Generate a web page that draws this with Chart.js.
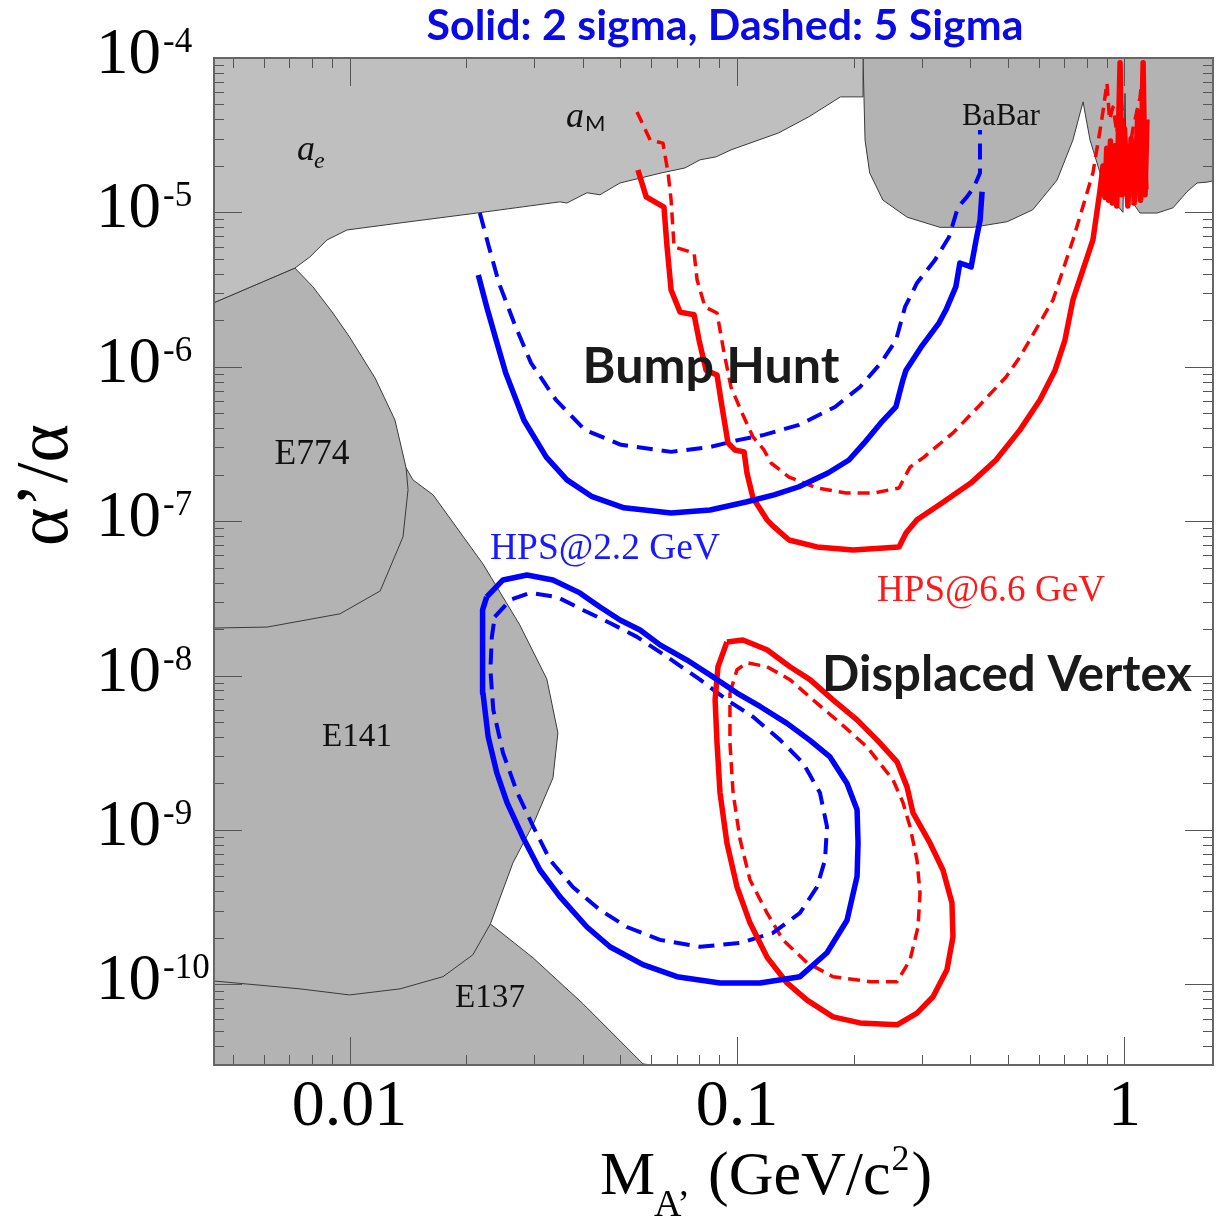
<!DOCTYPE html>
<html>
<head>
<meta charset="utf-8">
<script src="https://cdn.jsdelivr.net/npm/chart.js@4.4.1/dist/chart.umd.min.js"></script>
<style>
  html, body { margin: 0; padding: 0; background: #fff; }
  #wrap { position: relative; width: 1220px; height: 1217px; }
</style>
</head>
<body>
<div id="wrap"><canvas id="chart"></canvas></div>
<script>
// [mass (GeV), alpha'/alpha]

// excluded regions
const upperRegion = [
  [0.00447, 2.6e-6], [0.00723, 4.36e-6], [0.0079, 5.14e-6], [0.00875, 6.63e-6], [0.00985, 7.69e-6],
  [0.0135, 8.54e-6], [0.0213, 9.9e-6], [0.0349, 1.17e-5], [0.0364, 1.15e-5], [0.041, 1.34e-5],
  [0.0443, 1.3e-5], [0.0499, 1.55e-5], [0.0637, 1.8e-5], [0.0734, 1.94e-5], [0.0803, 2.19e-5],
  [0.0883, 2.29e-5], [0.0965, 2.54e-5], [0.128, 3.27e-5], [0.153, 4.15e-5], [0.185, 5.6e-5],
  [0.2115, 5.6e-5], [0.2115, 1e-4], [0.00447, 1e-4]
];
const babarRegion = [
  [0.2115, 1e-4], [0.2115, 9.7e-5], [0.214, 2.94e-5], [0.22, 1.8e-5], [0.238, 1.2e-5],
  [0.275, 9.3e-6], [0.334, 8.0e-6], [0.406, 8.0e-6], [0.498, 8.7e-6], [0.58, 1.04e-5],
  [0.67, 1.62e-5], [0.736, 2.94e-5], [0.768, 4.4e-5], [0.782, 5.2e-5], [0.791, 4.4e-5],
  [0.815, 2.94e-5], [0.865, 1.8e-5], [0.934, 1.2e-5], [0.991, 1.0e-5], [1.003, 5.9e-5],
  [1.015, 1.08e-5], [1.052, 1.15e-5], [1.096, 9.9e-6], [1.213, 9.9e-6], [1.334, 1.07e-5],
  [1.45, 1.36e-5], [1.539, 1.55e-5], [1.633, 1.57e-5], [1.692, 1.6e-5], [1.692, 1e-4]
];
const beamDumpRegion = [
  [0.00447, 2.6e-6], [0.00723, 4.36e-6], [0.00805, 3.29e-6], [0.00906, 2.23e-6], [0.0100, 1.56e-6],
  [0.01164, 8.46e-7], [0.0131, 4.52e-7], [0.0140, 2.21e-7], [0.01458, 1.85e-7], [0.01643, 1.48e-7],
  [0.0221, 5.28e-8], [0.0275, 2.13e-8], [0.0323, 9.5e-9], [0.0345, 4.25e-9], [0.0335, 2.17e-9],
  [0.0298, 1.09e-9], [0.0264, 6.1e-10], [0.0231, 2.46e-10], [0.0298, 1.48e-10], [0.0400, 7.5e-11],
  [0.0572, 3.05e-11], [0.06, 3.0e-11], [0.00447, 3.0e-11]
];
const e774Edge = [
  [0.0140, 2.21e-7], [0.01416, 1.6e-7], [0.01374, 7.9e-8], [0.0120, 3.53e-8],
  [0.00945, 2.51e-8], [0.00613, 2.06e-8], [0.00447, 2.03e-8]
];
const e141Edge = [
  [0.0231, 2.46e-10], [0.0208, 1.55e-10], [0.01743, 1.12e-10], [0.0135, 9.34e-11],
  [0.0100, 8.53e-11], [0.00745, 9.34e-11], [0.00447, 1.05e-10]
];

// HPS bump hunt reach
const bump22Solid = [
  [0.0215, 3.93e-6], [0.0226, 2.44e-6], [0.0239, 1.49e-6], [0.0253, 9.1e-7], [0.0282, 4.5e-7],
  [0.0322, 2.6e-7], [0.0364, 1.85e-7], [0.0423, 1.44e-7], [0.0511, 1.22e-7], [0.0676, 1.13e-7],
  [0.0852, 1.18e-7], [0.1055, 1.33e-7], [0.1246, 1.48e-7], [0.1445, 1.67e-7], [0.1717, 2.05e-7],
  [0.1945, 2.49e-7], [0.213, 3.21e-7], [0.235, 4.33e-7], [0.257, 5.49e-7], [0.268, 8.2e-7],
  [0.273, 9.5e-7], [0.2985, 1.34e-6], [0.332, 1.92e-6], [0.346, 2.33e-6], [0.367, 3.29e-6],
  [0.376, 4.7e-6], [0.402, 4.43e-6], [0.414, 6.63e-6], [0.424, 8.93e-6], [0.429, 1.36e-5]
];
const bump22Dashed = [
  [0.0217, 9.9e-6], [0.0229, 5.97e-6], [0.0243, 3.49e-6], [0.0266, 1.92e-6], [0.0294, 1.06e-6],
  [0.0341, 6.1e-7], [0.0405, 3.9e-7], [0.0502, 3.12e-7], [0.0676, 2.81e-7], [0.0852, 3.02e-7],
  [0.1012, 3.36e-7], [0.1174, 3.62e-7], [0.1445, 4.2e-7], [0.179, 5.49e-7], [0.2077, 7.4e-7],
  [0.2353, 1.06e-6], [0.2573, 1.49e-6], [0.2714, 2.44e-6], [0.2914, 3.49e-6], [0.3243, 4.92e-6],
  [0.3525, 6.93e-6], [0.3718, 1.08e-5], [0.3922, 1.26e-5], [0.4089, 1.46e-5], [0.4237, 1.8e-5],
  [0.4237, 3.42e-5]
];
const bump66Solid = [
  [0.0555, 1.88e-5], [0.0583, 1.26e-5], [0.0648, 1.08e-5], [0.066, 5.97e-6], [0.0676, 3.14e-6],
  [0.0713, 2.26e-6], [0.0775, 2.17e-6], [0.0798, 1.49e-6], [0.0832, 9.5e-7], [0.0888, 8.85e-7],
  [0.0915, 5.49e-7], [0.0948, 3.21e-7], [0.0988, 2.89e-7], [0.1043, 2.81e-7], [0.1061, 2.05e-7],
  [0.110, 1.41e-7], [0.1195, 1.02e-7], [0.1246, 9.17e-8], [0.1362, 7.55e-8], [0.1609, 6.81e-8],
  [0.1993, 6.51e-8], [0.2619, 6.81e-8], [0.273, 8.39e-8], [0.2914, 1.02e-7], [0.338, 1.31e-7],
  [0.402, 1.77e-7], [0.466, 2.49e-7], [0.5375, 3.9e-7], [0.605, 6.1e-7], [0.662, 9.5e-7],
  [0.702, 1.49e-6], [0.736, 2.71e-6], [0.829, 6.63e-6], [0.865, 1.4e-5], [0.88, 2.0e-5],
  [0.89, 1.25e-5], [0.90, 2.6e-5], [0.91, 1.2e-5], [0.92, 2.9e-5], [0.93, 1.15e-5],
  [0.945, 2.7e-5], [0.955, 1.1e-5], [0.974, 9.3e-5], [0.985, 1.3e-5], [1.0, 3.5e-5],
  [1.02, 1.1e-5], [1.04, 3.0e-5], [1.06, 1.15e-5], [1.083, 4.5e-5], [1.10, 1.2e-5],
  [1.117, 9.3e-5], [1.13, 1.3e-5], [1.143, 4.0e-5]
];
const bump66Dashed = [
  [0.0552, 4.47e-5], [0.0597, 2.94e-5], [0.0644, 2.81e-5], [0.0664, 1.8e-5], [0.0676, 1.2e-5],
  [0.0688, 5.97e-6], [0.0775, 5.46e-6], [0.0789, 3.65e-6], [0.0827, 2.44e-6], [0.0888, 2.23e-6],
  [0.0926, 1.23e-6], [0.0965, 7.4e-7], [0.103, 5.02e-7], [0.110, 3.51e-7], [0.1174, 2.89e-7],
  [0.1224, 2.38e-7], [0.1362, 1.93e-7], [0.1609, 1.64e-7], [0.1911, 1.52e-7], [0.2257, 1.52e-7],
  [0.2619, 1.64e-7], [0.2796, 2.24e-7], [0.3038, 2.6e-7], [0.3609, 3.73e-7], [0.4188, 5.49e-7],
  [0.4947, 8.59e-7], [0.5375, 1.16e-6], [0.654, 2.71e-6], [0.736, 6.63e-6], [0.829, 1.8e-5],
  [0.865, 3.42e-5], [0.88, 4.5e-5], [0.901, 6.89e-5], [0.915, 4.0e-5], [0.934, 4.81e-5],
  [0.956, 3.27e-5], [0.974, 6.5e-5], [0.991, 4.0e-5], [1.015, 2.0e-5], [1.052, 3.5e-5],
  [1.096, 5.5e-5], [1.116, 8.0e-5], [1.13, 2.5e-5], [1.143, 1.4e-5]
];

// HPS displaced vertex reach (closed contours)
const vertex22Solid = [
  [0.0226, 3.23e-8], [0.0249, 4.16e-8], [0.0287, 4.48e-8], [0.0335, 4.16e-8], [0.0393, 3.43e-8],
  [0.0443, 2.78e-8], [0.0499, 2.29e-8], [0.0562, 1.97e-8], [0.0633, 1.58e-8], [0.0743, 1.26e-8],
  [0.0867, 9.8e-9], [0.100, 7.7e-9], [0.1147, 6.3e-9], [0.1346, 4.9e-9], [0.1543, 3.8e-9],
  [0.1738, 2.97e-9], [0.1923, 2.0e-9], [0.2041, 1.35e-9], [0.2053, 8.2e-10], [0.2041, 5.0e-10],
  [0.1923, 2.6e-10], [0.1707, 1.6e-10], [0.1454, 1.12e-10], [0.1147, 1.02e-10], [0.0904, 1.02e-10],
  [0.070, 1.12e-10], [0.0572, 1.34e-10], [0.047, 1.75e-10], [0.041, 2.35e-10], [0.0349, 3.7e-10],
  [0.031, 5.5e-10], [0.028, 9.0e-10], [0.0255, 1.5e-9], [0.024, 2.34e-9], [0.0228, 4.0e-9],
  [0.0221, 7.7e-9], [0.022, 1.63e-8], [0.0221, 2.66e-8]
];
const vertex22Dashed = [
  [0.0237, 2.4e-8], [0.026, 3.09e-8], [0.0292, 3.43e-8], [0.0343, 3.23e-8], [0.040, 2.66e-8],
  [0.047, 2.19e-8], [0.0552, 1.78e-8], [0.066, 1.32e-8], [0.0803, 9.4e-9], [0.0942, 6.95e-9],
  [0.110, 5.4e-9], [0.1291, 3.83e-9], [0.148, 2.72e-9], [0.1637, 1.74e-9], [0.1707, 1.05e-9],
  [0.1687, 6.4e-10], [0.1609, 4.27e-10], [0.1454, 2.9e-10], [0.1238, 2.15e-10], [0.1018, 1.85e-10],
  [0.0803, 1.75e-10], [0.0633, 1.94e-10], [0.052, 2.35e-10], [0.0443, 3.03e-10], [0.0377, 4.27e-10],
  [0.0329, 6.4e-10], [0.0298, 1.05e-9], [0.0271, 1.74e-9], [0.0249, 3.15e-9], [0.0235, 6.0e-9],
  [0.0231, 1.09e-8], [0.0233, 1.78e-8]
];
const vertex66Solid = [
  [0.0942, 1.65e-8], [0.1036, 1.7e-8], [0.1195, 1.47e-8], [0.137, 1.14e-8], [0.1543, 9.4e-9],
  [0.1769, 6.95e-9], [0.2041, 5.16e-9], [0.2298, 3.83e-9], [0.2588, 2.76e-9], [0.2746, 1.9e-9],
  [0.2846, 1.29e-9], [0.3149, 8.2e-10], [0.340, 5.5e-10], [0.3587, 3.37e-10], [0.3609, 2.03e-10],
  [0.3482, 1.24e-10], [0.3205, 8.3e-11], [0.2914, 6.5e-11], [0.2588, 5.46e-11], [0.2077, 5.62e-11],
  [0.1769, 6.15e-11], [0.1516, 7.9e-11], [0.1346, 1.02e-10], [0.1195, 1.5e-10], [0.108, 2.5e-10],
  [0.100, 4.27e-10], [0.0942, 8.2e-10], [0.0904, 1.74e-9], [0.0888, 3.66e-9], [0.0878, 6.95e-9],
  [0.0893, 1.14e-8]
];
const vertex66Dashed = [
  [0.0959, 7.7e-9], [0.100, 1.09e-8], [0.1061, 1.21e-8], [0.1195, 1.14e-8], [0.137, 9.4e-9],
  [0.1571, 6.95e-9], [0.1845, 4.93e-9], [0.2165, 3.45e-9], [0.2527, 2.11e-9], [0.2682, 1.5e-9],
  [0.2796, 1.05e-9], [0.2914, 6.4e-10], [0.2967, 3.9e-10], [0.2932, 2.35e-10], [0.2796, 1.44e-10],
  [0.2588, 1.04e-10], [0.2204, 1.04e-10], [0.1769, 1.12e-10], [0.1516, 1.38e-10], [0.1314, 1.94e-10],
  [0.1195, 2.9e-10], [0.108, 4.75e-10], [0.1018, 8.7e-10], [0.0977, 1.74e-9], [0.0959, 3.66e-9]
];

// axes
const massRange = [0.00447, 1.692];
const couplingRange = [3.0e-11, 1e-4];
const massTickLabels = ['0.01', '0.1', '1'];
const couplingExponents = [-4, -5, -6, -7, -8, -9, -10];

const SERIF = '"Liberation Serif", "Times New Roman", serif';
const SANS = 'Lato, "Open Sans", sans-serif';
const BLUE = '#0000ff';
const RED = '#ff0000';

const pts = list => list.map(([x, y]) => ({x, y}));
const closed = list => pts(list.concat([list[0]]));

function region(data, color) {
  return {data: pts(data), showLine: true, fill: 'shape', backgroundColor: color,
    borderColor: '#3a3a3a', borderWidth: 1, order: 3};
}
function edge(data) {
  return {data: pts(data), showLine: true, fill: false, borderColor: '#3a3a3a', borderWidth: 1, order: 2};
}
function curve(data, color, style) {
  const dashed = style !== 'solid';
  const thin = style === 'thin';
  return {data, showLine: true, fill: false, borderColor: color,
    borderWidth: dashed ? (thin ? 3.5 : 4) : 5.5,
    borderDash: dashed ? (thin ? [12, 7] : [16, 9]) : [],
    order: dashed ? 1 : 0, borderJoinStyle: 'round'};
}

function fitText(ctx, text, cx, cy, width, weight, family, color) {
  ctx.font = `${weight} 40px ${family}`;
  const size = 40 * width / ctx.measureText(text).width;
  ctx.font = `${weight} ${size}px ${family}`;
  ctx.fillStyle = color;
  ctx.textAlign = 'center';
  ctx.textBaseline = 'middle';
  ctx.fillText(text, cx, cy);
}

const decorations = {
  id: 'decorations',
  afterDatasetsDraw(chart) {
    const {ctx, chartArea: a, scales: {x, y}} = chart;
    ctx.save();
    const seg = (x0, y0, x1, y1) => { ctx.beginPath(); ctx.moveTo(x0, y0); ctx.lineTo(x1, y1); ctx.stroke(); };

    // inward ticks on all four sides
    ctx.strokeStyle = '#555';
    ctx.lineWidth = 1;
    for (let p = -3; p <= 0; p++) {
      for (let m = 1; m <= 9; m++) {
        const px = Math.round(x.getPixelForValue(m * Math.pow(10, p))) + 0.5;
        if (px < a.left || px > a.right) continue;
        const len = m === 1 ? 28 : 10;
        seg(px, a.bottom, px, a.bottom - len);
        seg(px, a.top, px, a.top + len);
      }
    }
    for (let p = -11; p <= -5; p++) {
      for (let m = 1; m <= 9; m++) {
        const py = Math.round(y.getPixelForValue(m * Math.pow(10, p))) + 0.5;
        if (py < a.top - 1 || py > a.bottom) continue;
        const len = m === 1 ? 28 : 10;
        seg(a.left, py, a.left + len, py);
        seg(a.right, py, a.right - len, py);
      }
    }
    ctx.strokeStyle = '#666';
    ctx.lineWidth = 2;
    ctx.strokeRect(a.left, a.top, a.right - a.left, a.bottom - a.top);

    // tick labels
    ctx.fillStyle = '#000';
    ctx.textBaseline = 'alphabetic';
    massTickLabels.forEach(t => {
      ctx.font = `66px ${SERIF}`;
      ctx.textAlign = 'center';
      ctx.fillText(t, x.getPixelForValue(parseFloat(t)), 1125);
    });
    couplingExponents.forEach(e => {
      const py = y.getPixelForValue(Math.pow(10, e));
      ctx.font = `65px ${SERIF}`;
      ctx.textAlign = 'right';
      ctx.fillText('10', 161, py + 15);
      ctx.font = `35px ${SERIF}`;
      ctx.textAlign = 'left';
      ctx.fillText(String(e), 163, py - 6);
    });

    // axis titles
    ctx.textAlign = 'left';
    ctx.font = `62px ${SERIF}`;
    ctx.fillText('M', 600, 1194);
    ctx.font = `38px ${SERIF}`;
    ctx.fillText('A\u2019', 654, 1216);
    ctx.font = `62px ${SERIF}`;
    ctx.fillText('(GeV/c', 708, 1194);
    const wc = ctx.measureText('(GeV/c').width;
    ctx.font = `36px ${SERIF}`;
    ctx.fillText('2', 708 + wc + 1, 1170);
    const w2 = ctx.measureText('2').width;
    ctx.font = `62px ${SERIF}`;
    ctx.fillText(')', 708 + wc + w2 + 3, 1194);

    ctx.save();
    ctx.translate(48, 485);
    ctx.rotate(-Math.PI / 2);
    fitText(ctx, '\u03b1\u2019/\u03b1', 0, 0, 122, 'normal', SERIF, '#000');
    ctx.restore();

    // title
    fitText(ctx, 'Solid: 2 sigma, Dashed: 5 Sigma', 725, 26, 597, 'bold', SANS, '#0a0ae6');

    // region labels
    fitText(ctx, 'BaBar', 1001, 117, 78, 'normal', SERIF, '#111');
    fitText(ctx, 'E774', 312, 455, 75, 'normal', SERIF, '#111');
    fitText(ctx, 'E141', 357, 737, 70, 'normal', SERIF, '#111');
    fitText(ctx, 'E137', 490, 998, 70, 'normal', SERIF, '#111');
    ctx.textAlign = 'left';
    ctx.textBaseline = 'alphabetic';
    ctx.fillStyle = '#111';
    ctx.font = `italic 36px ${SERIF}`;
    ctx.fillText('a', 297, 160);
    ctx.font = `italic 24px ${SERIF}`;
    ctx.fillText('e', 314, 168);
    ctx.font = `italic 36px ${SERIF}`;
    ctx.fillText('a', 566, 127);
    ctx.font = `22px ${SANS}`;
    ctx.fillText('M', 585, 131);

    // curve labels
    fitText(ctx, 'Bump Hunt', 711, 367, 257, 'bold', SANS, '#1a1a1a');
    fitText(ctx, 'Displaced Vertex', 1007, 675, 370, 'bold', SANS, '#1a1a1a');
    fitText(ctx, 'HPS@2.2 GeV', 605, 549, 230, 'normal', SERIF, '#1a1aff');
    fitText(ctx, 'HPS@6.6 GeV', 991, 591, 228, 'normal', SERIF, '#ff1a1a');
    ctx.restore();
  }
};

new Chart(document.getElementById('chart'), {
  type: 'scatter',
  data: {
    datasets: [
      curve(pts(bump22Solid), BLUE, 'solid'),
      curve(pts(bump66Solid), RED, 'solid'),
      curve(closed(vertex22Solid), BLUE, 'solid'),
      curve(closed(vertex66Solid), RED, 'solid'),
      curve(pts(bump22Dashed), BLUE, 'dashed'),
      curve(pts(bump66Dashed), RED, 'thin'),
      curve(closed(vertex22Dashed), BLUE, 'dashed'),
      curve(closed(vertex66Dashed), RED, 'thin'),
      edge(e774Edge),
      edge(e141Edge),
      region(upperRegion, '#bfbfbf'),
      region(babarRegion, '#b3b3b3'),
      region(beamDumpRegion, '#b3b3b3'),
    ],
  },
  options: {
    responsive: true,
    maintainAspectRatio: false,
    animation: false,
    events: [],
    elements: {point: {radius: 0}, line: {tension: 0}},
    layout: {padding: {left: 214, top: 58, right: 7, bottom: 152}},
    plugins: {legend: {display: false}, tooltip: {enabled: false}},
    scales: {
      x: {type: 'logarithmic', display: false, min: massRange[0], max: massRange[1]},
      y: {type: 'logarithmic', display: false, min: couplingRange[0], max: couplingRange[1]},
    },
  },
  plugins: [decorations],
});
</script>
</body>
</html>
